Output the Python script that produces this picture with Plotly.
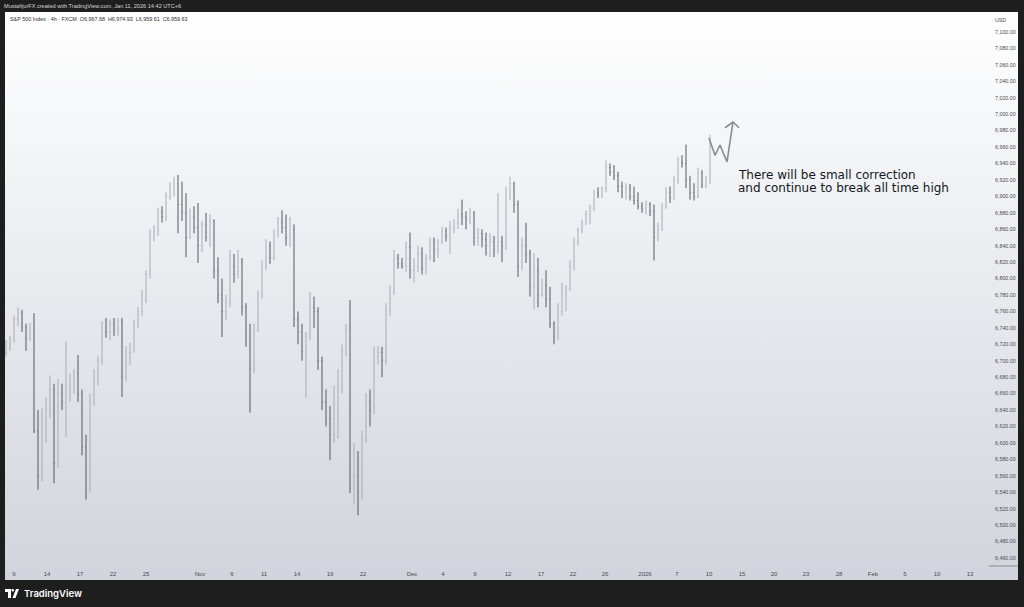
import base64
import plotly.graph_objects as go

# 4h S&P 500 (FXCM) bars (one entry per ~2 bars)
opens = [6710, 6718, 6726, 6750, 6758, 6740, 6728, 6740, 6615, 6560,
         6625, 6640, 6665, 6575, 6660, 6650, 6670, 6675, 6685, 6660,
         6595, 6545, 6650, 6680, 6700, 6740, 6735, 6745, 6738, 6748,
         6680, 6710, 6715, 6745, 6760, 6780, 6805, 6850, 6858, 6880,
         6875, 6900, 6910, 6915, 6890, 6880, 6850, 6875, 6862, 6840,
         6865, 6850, 6870, 6810, 6780, 6760, 6770, 6815, 6805, 6820,
         6765, 6730, 6690, 6740, 6780, 6815, 6840, 6825, 6855, 6868,
         6862, 6850, 6860, 6750, 6735, 6712, 6730, 6765, 6760, 6700,
         6650, 6630, 6610, 6640, 6665, 6712, 6738, 6545, 6560, 6540,
         6605, 6650, 6640, 6705, 6710, 6700, 6760, 6785, 6825, 6818,
         6815, 6838, 6810, 6815, 6830, 6812, 6825, 6845, 6835, 6845,
         6858, 6852, 6862, 6868, 6878, 6875, 6872, 6880, 6850, 6855,
         6848, 6840, 6845, 6835, 6845, 6840, 6905, 6915, 6890, 6815,
         6840, 6830, 6790, 6810, 6780, 6792, 6775, 6745, 6730, 6760,
         6785, 6788, 6815, 6845, 6858, 6868, 6878, 6885, 6905, 6902,
         6910, 6935, 6930, 6925, 6912, 6905, 6910, 6900, 6895, 6888,
         6885, 6890, 6882, 6850, 6860, 6888, 6905, 6898, 6920, 6942,
         6940, 6920, 6905, 6900, 6928, 6915, 6920]
highs = [6725, 6730, 6755, 6765, 6762, 6745, 6746, 6758, 6640, 6642,
         6655, 6682, 6672, 6678, 6672, 6723, 6685, 6690, 6707, 6665,
         6610, 6660, 6690, 6705, 6748, 6752, 6750, 6752, 6752, 6752,
         6718, 6722, 6750, 6765, 6786, 6810, 6860, 6865, 6886, 6888,
         6905, 6917, 6924, 6926, 6918, 6904, 6885, 6888, 6892, 6870,
         6880, 6878, 6872, 6826, 6800, 6780, 6835, 6830, 6835, 6825,
         6770, 6745, 6745, 6785, 6822, 6848, 6845, 6860, 6875, 6883,
         6878, 6875, 6866, 6760, 6745, 6735, 6784, 6778, 6765, 6705,
         6665, 6645, 6670, 6690, 6720, 6745, 6774, 6600, 6590, 6615,
         6661, 6665, 6717, 6718, 6717, 6770, 6792, 6835, 6830, 6825,
         6845, 6856, 6825, 6840, 6838, 6830, 6850, 6850, 6848, 6863,
         6862, 6870, 6872, 6885, 6896, 6882, 6886, 6882, 6862, 6860,
         6856, 6855, 6852, 6904, 6852, 6912, 6924, 6918, 6895, 6850,
         6868, 6835, 6831, 6825, 6800, 6810, 6790, 6748, 6770, 6795,
         6792, 6822, 6850, 6862, 6872, 6883, 6890, 6908, 6911, 6912,
         6944, 6940, 6938, 6930, 6918, 6916, 6915, 6912, 6905, 6893,
         6895, 6893, 6890, 6868, 6892, 6911, 6912, 6925, 6948, 6950,
         6963, 6925, 6916, 6935, 6932, 6925, 6975]
lows = [6705, 6712, 6722, 6742, 6735, 6712, 6724, 6612, 6543, 6553,
        6600, 6630, 6551, 6570, 6640, 6607, 6650, 6660, 6650, 6585,
        6531, 6540, 6645, 6670, 6695, 6728, 6725, 6730, 6730, 6656,
        6675, 6695, 6710, 6740, 6755, 6770, 6800, 6845, 6852, 6868,
        6870, 6896, 6900, 6855, 6870, 6826, 6848, 6855, 6819, 6832,
        6845, 6838, 6800, 6770, 6729, 6750, 6765, 6795, 6800, 6755,
        6717, 6637, 6685, 6735, 6775, 6810, 6818, 6822, 6850, 6855,
        6840, 6838, 6741, 6720, 6700, 6655, 6725, 6740, 6689, 6640,
        6620, 6579, 6600, 6605, 6660, 6705, 6539, 6525, 6512, 6530,
        6600, 6620, 6635, 6695, 6680, 6695, 6755, 6780, 6812, 6812,
        6808, 6800, 6795, 6808, 6805, 6805, 6822, 6820, 6825, 6842,
        6845, 6830, 6855, 6860, 6865, 6860, 6866, 6840, 6840, 6838,
        6828, 6826, 6826, 6830, 6820, 6835, 6895, 6880, 6802, 6810,
        6819, 6778, 6762, 6765, 6778, 6765, 6740, 6720, 6725, 6755,
        6760, 6785, 6810, 6840, 6855, 6865, 6866, 6882, 6898, 6898,
        6905, 6925, 6920, 6905, 6898, 6896, 6895, 6890, 6884, 6880,
        6878, 6876, 6822, 6845, 6858, 6885, 6892, 6895, 6915, 6935,
        6910, 6896, 6895, 6898, 6910, 6910, 6915]
closes = [6718, 6726, 6750, 6758, 6740, 6728, 6740, 6615, 6560, 6625,
          6640, 6665, 6575, 6660, 6650, 6670, 6675, 6685, 6660, 6595,
          6545, 6650, 6680, 6700, 6740, 6735, 6745, 6738, 6748, 6680,
          6710, 6715, 6745, 6760, 6780, 6805, 6850, 6858, 6880, 6875,
          6900, 6910, 6915, 6890, 6880, 6850, 6875, 6862, 6840, 6865,
          6850, 6870, 6810, 6780, 6760, 6770, 6815, 6805, 6820, 6765,
          6730, 6690, 6740, 6780, 6815, 6840, 6825, 6855, 6868, 6862,
          6850, 6860, 6750, 6735, 6712, 6730, 6765, 6760, 6700, 6650,
          6630, 6610, 6640, 6665, 6712, 6738, 6545, 6560, 6540, 6605,
          6650, 6640, 6705, 6710, 6700, 6760, 6785, 6825, 6818, 6815,
          6838, 6810, 6815, 6830, 6812, 6825, 6845, 6835, 6845, 6858,
          6852, 6862, 6868, 6878, 6875, 6872, 6880, 6850, 6855, 6848,
          6840, 6845, 6835, 6845, 6840, 6905, 6915, 6890, 6815, 6840,
          6830, 6790, 6810, 6780, 6792, 6775, 6745, 6730, 6760, 6785,
          6788, 6815, 6845, 6858, 6868, 6878, 6885, 6905, 6902, 6910,
          6935, 6930, 6925, 6912, 6905, 6910, 6900, 6895, 6888, 6885,
          6890, 6882, 6850, 6860, 6888, 6905, 6898, 6920, 6942, 6940,
          6920, 6905, 6900, 6928, 6915, 6920, 6960]

# price scale labels
price_ticks = list(range(6460, 7101, 20))

# time scale labels and the bar slot they sit on
tick_labels = ["9", "14", "17", "22", "25", "Nov", "6", "11", "14", "19", "22",
               "Dec", "4", "9", "12", "17", "22", "26", "2026", "7", "10", "15",
               "20", "23", "28", "Feb", "5", "10", "13"]
tick_slots = [2, 10.25, 18.5, 26.75, 35, 48.5, 56.5, 64.5, 72.75, 81, 89.25,
              101.5, 109.25, 117.25, 125.5, 133.75, 141.75, 149.75, 159.75,
              167.75, 175.75, 184, 192, 200, 208.25, 216.75, 224.75, 232.75, 241]

# projected path drawing (bar slot, price)
path_x = [175.75, 177.25, 178.5, 180.25, 181.75]
path_y = [6971, 6950, 6962.5, 6942, 6990.5]
head_x = [179.75, 181.75, 183.25]
head_y = [6983.5, 6990.5, 6983.5]

note_lines = ["There will be small correction", "and continue to break all time high"]
note_y = [6926, 6910]

W, H = 1024, 607
ML, MR, MT, MB = 5, 35, 12, 41
PW, PH = W - ML - MR, H - MT - MB


def px_x(p):
    return (p - ML) / PW


def px_y(p):
    return (H - MB - p) / PH


fig = go.Figure()

fig.add_trace(go.Ohlc(
    x=list(range(len(opens))), open=opens, high=highs, low=lows, close=closes,
    increasing=dict(line=dict(color="#a9acb3", width=1)),
    decreasing=dict(line=dict(color="#55585f", width=1)),
    tickwidth=0.15, hoverinfo="skip", showlegend=False,
))

fig.add_trace(go.Scatter(x=path_x, y=path_y, mode="lines",
                         line=dict(color="#8a8c91", width=1.6),
                         hoverinfo="skip", showlegend=False))
fig.add_trace(go.Scatter(x=head_x, y=head_y, mode="lines",
                         line=dict(color="#8a8c91", width=1.6),
                         hoverinfo="skip", showlegend=False))

# background gradient of the chart pane, as an inline svg
svg = ("<svg xmlns='http://www.w3.org/2000/svg' width='100' height='100' preserveAspectRatio='none'>"
       "<defs><linearGradient id='g' x1='0' y1='0' x2='0' y2='1'>"
       "<stop offset='0' stop-color='#ffffff'/><stop offset='1' stop-color='#d1d4dc'/>"
       "</linearGradient></defs><rect width='100' height='100' fill='url(#g)'/></svg>")
bg_src = "data:image/svg+xml;base64," + base64.b64encode(svg.encode()).decode()
images = [dict(source=bg_src, xref="paper", yref="paper", x=px_x(5), y=px_y(12),
               sizex=px_x(1018) - px_x(5), sizey=px_y(12) - px_y(580),
               xanchor="left", yanchor="top", sizing="stretch", layer="below")]

shapes = []
# price scale bottom border
shapes.append(dict(type="line", xref="paper", yref="paper",
                   x0=px_x(989), x1=px_x(1018), y0=px_y(566), y1=px_y(566),
                   line=dict(color="#8a8c91", width=1)))
# TradingView logo mark
shapes.append(dict(type="rect", xref="paper", yref="paper",
                   x0=px_x(5), x1=px_x(11), y0=px_y(592), y1=px_y(589),
                   fillcolor="#ffffff", line=dict(width=0)))
shapes.append(dict(type="rect", xref="paper", yref="paper",
                   x0=px_x(8), x1=px_x(11), y0=px_y(598), y1=px_y(589),
                   fillcolor="#ffffff", line=dict(width=0)))
shapes.append(dict(type="circle", xref="paper", yref="paper",
                   x0=px_x(11.5), x1=px_x(14), y0=px_y(591.5), y1=px_y(589),
                   fillcolor="#ffffff", line=dict(width=0)))
shapes.append(dict(type="path", xref="paper", yref="paper",
                   path="M %f %f L %f %f L %f %f L %f %f Z" % (
                       px_x(12.5), px_y(598), px_x(16), px_y(589),
                       px_x(19), px_y(589), px_x(15.5), px_y(598)),
                   fillcolor="#ffffff", line=dict(width=0)))

small = dict(family="Liberation Sans, Arial, sans-serif", size=6, color="#4a4c52")
price_font = dict(family="Liberation Sans, Arial, sans-serif", size=5.3, color="#4a4c52")
annotations = [
    dict(text="MustafijurFX created with TradingView.com, Jan 11, 2026 14:42 UTC+6",
         xref="paper", yref="paper", x=px_x(2), y=px_y(6), xanchor="left", yanchor="middle",
         showarrow=False, font=dict(family="Liberation Sans, Arial, sans-serif", size=5.6, color="#d6d6d6")),
    dict(text="S&P 500 Index · 4h · FXCM  O6,967.68  H6,974.93  L6,959.61  C6,959.63",
         xref="paper", yref="paper", x=px_x(8), y=px_y(19), xanchor="left", yanchor="middle",
         showarrow=False, font=dict(family="Liberation Sans, Arial, sans-serif", size=5.4, color="#2a2c30")),
    dict(text="USD", xref="paper", yref="paper", x=px_x(1000), y=px_y(20),
         xanchor="center", yanchor="middle", showarrow=False, font=price_font),
    dict(text="TradingView", xref="paper", yref="paper", x=px_x(22), y=px_y(593.5),
         xanchor="left", yanchor="middle", showarrow=False,
         font=dict(family="Inter, Roboto, sans-serif", size=9.5, color="#ffffff", weight=600)),
]
for line, yv in zip(note_lines, note_y):
    annotations.append(dict(text=line, x=182.5, y=yv, xref="x", yref="y",
                            xanchor="left", yanchor="middle", showarrow=False,
                            font=dict(family="DejaVu Sans, sans-serif", size=12, color="#131722")))

fig.update_layout(
    width=W, height=H,
    margin=dict(l=ML, r=MR, t=MT, b=MB),
    paper_bgcolor="#1e1e1e", plot_bgcolor="rgba(0,0,0,0)",
    shapes=shapes, annotations=annotations, images=images,
    showlegend=False,
    xaxis=dict(range=[-0.25, 245.75], rangeslider=dict(visible=False),
               tickmode="array", tickvals=tick_slots, ticktext=tick_labels,
               showgrid=False, zeroline=False, showline=False,
               ticks="outside", ticklen=2, tickcolor="rgba(0,0,0,0)",
               tickfont=small, fixedrange=True),
    yaxis=dict(range=[6450.27, 7124.33], side="right",
               tickmode="array", tickvals=price_ticks,
               tickformat=",.2f", showgrid=False, zeroline=False, showline=False,
               ticks="outside", ticklen=4, tickcolor="rgba(0,0,0,0)",
               tickfont=price_font, fixedrange=True),
)

fig.write_html("out.html", config={"displayModeBar": False},
               post_script="document.body.style.margin='0';document.body.style.overflow='hidden';")
